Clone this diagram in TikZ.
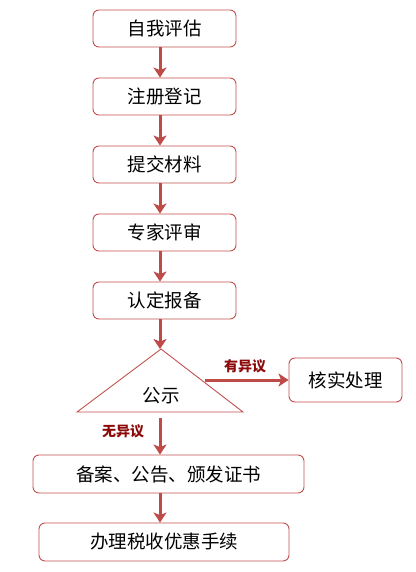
\documentclass[tikz,border=0pt]{standalone}
\usepackage{fontspec}
\setmainfont{Noto Sans CJK SC}
\usetikzlibrary{arrows.meta}
\definecolor{boxred}{RGB}{192,80,77}
\definecolor{arrred}{RGB}{190,75,72}
\definecolor{lblred}{RGB}{140,10,10}
\tikzset{
  box/.style={draw=boxred, line width=0.9pt, rounded corners=6pt, fill=white, inner sep=0pt, font=\fontsize{18.5}{20}\selectfont},
  conn/.style={draw=arrred, line width=3pt, -{Stealth[length=10pt,width=13pt,inset=2.5pt]}},
  lbl/.style={text=lblred, font=\fontsize{14}{15}\selectfont\bfseries, inner sep=0pt}
}
\begin{document}
\begin{tikzpicture}[x=1pt,y=-1pt]
\useasboundingbox (0,0) rectangle (415,572);
\node[box, minimum width=143pt, minimum height=37pt] (a) at (164.5,28.5) {自我评估};
\node[box, minimum width=143pt, minimum height=37pt] (b) at (164.5,96.5) {注册登记};
\node[box, minimum width=143pt, minimum height=37pt] (c) at (164.5,164.5) {提交材料};
\node[box, minimum width=143pt, minimum height=37pt] (d) at (164.5,232.5) {专家评审};
\node[box, minimum width=143pt, minimum height=37pt] (e) at (164.5,300.5) {认定报备};
\draw[draw=boxred, line width=0.9pt] (161,349) -- (243,412) -- (77,412) -- cycle;
\coordinate (tri) at (161,349);
\coordinate (triR) at (205,380);
\coordinate (triB) at (161,418);
\node[inner sep=0pt, font=\fontsize{18.5}{20}\selectfont] (pub) at (161,396) {公示};
\node[box, minimum width=113pt, minimum height=44pt] (f) at (345.5,380) {核实处理};
\node[box, minimum width=271pt, minimum height=38pt] (g) at (168.5,474) {备案、公告、颁发证书};
\node[box, minimum width=250pt, minimum height=38pt] (h) at (164,542) {办理税收优惠手续};
\draw[conn] (a.south -| 160,0) -- (b.north -| 160,0);
\draw[conn] (b.south -| 160,0) -- (c.north -| 160,0);
\draw[conn] (c.south -| 160,0) -- (d.north -| 160,0);
\draw[conn] (d.south -| 160,0) -- (e.north -| 160,0);
\draw[conn] (e.south -| 160,0) -- (tri -| 160,0);
\draw[conn] (triR) -- (f.west);
\draw[conn] (triB -| 160,0) -- (g.north -| 160,0);
\draw[conn] (g.south -| 160,0) -- (h.north -| 160,0);
\node[lbl] (l1) at (245,366) {有异议};
\node[lbl] (l2) at (123,431) {无异议};
\end{tikzpicture}
\end{document}
